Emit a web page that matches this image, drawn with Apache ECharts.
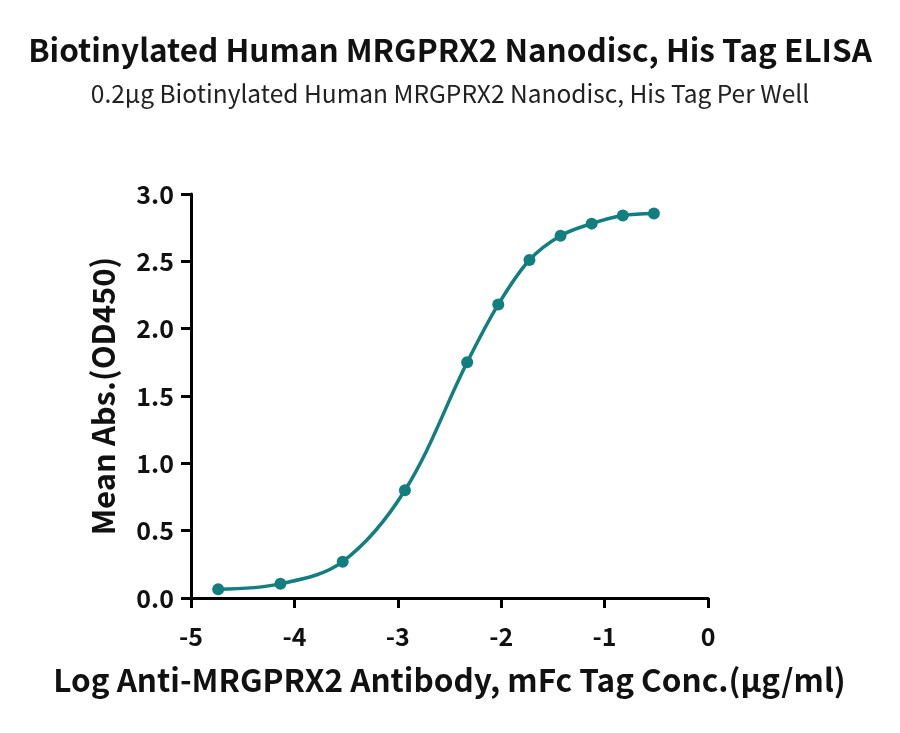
<!DOCTYPE html>
<html>
<head>
<meta charset="utf-8">
<script src="https://cdn.jsdelivr.net/npm/echarts@6/dist/echarts.min.js"></script>
<style>
  html, body { margin: 0; padding: 0; background: #fff; }
  #chart { width: 900px; height: 733px; }
</style>
</head>
<body>
<div id="chart"></div>
<script>
// log concentration (x) and mean absorbance (y)
const logConc = [-4.737, -4.135, -3.533, -2.931, -2.329, -2.028, -1.727, -1.426, -1.125, -0.824, -0.523];
const meanAbs = [0.065, 0.105, 0.27, 0.80, 1.75, 2.18, 2.51, 2.69, 2.78, 2.84, 2.855];

const xTicks = [-5, -4, -3, -2, -1, 0];
const yTicks = [0, 0.5, 1.0, 1.5, 2.0, 2.5, 3.0];

const teal = '#127e7f';
const font = '"Noto Sans CJK SC", "Noto Sans", sans-serif';

let myChart = echarts.init(document.getElementById('chart'));

let points = logConc.map((x, i) => [x, meanAbs[i]]);

let option = {
    animation: false,
    title: {
        text: 'Biotinylated Human MRGPRX2 Nanodisc, His Tag ELISA',
        subtext: '0.2\u00b5g Biotinylated Human MRGPRX2 Nanodisc, His Tag Per Well',
        left: 'center',
        top: 29,
        itemGap: 16,
        textStyle: {fontFamily: font, fontWeight: 'bold', fontSize: 31.5, color: '#111'},
        subtextStyle: {fontFamily: font, fontSize: 24.5, color: '#222'}
    },
    grid: {
        left: 191,
        right: 192,
        top: 194,
        bottom: 135
    },
    xAxis: {
        type: 'value',
        min: xTicks[0],
        max: xTicks[xTicks.length - 1],
        interval: 1,
        name: 'Log Anti-MRGPRX2 Antibody, mFc Tag Conc.(\u00b5g/ml)',
        nameLocation: 'middle',
        nameGap: 66,
        nameTextStyle: {fontFamily: font, fontWeight: 'bold', fontSize: 31.5, color: '#111'},
        axisLine: {onZero: false, lineStyle: {color: '#000', width: 3}},
        axisTick: {length: 10, lineStyle: {color: '#000', width: 3}},
        axisLabel: {fontFamily: font, fontWeight: 'bold', fontSize: 25, color: '#111', margin: 26},
        splitLine: {show: false}
    },
    yAxis: {
        type: 'value',
        min: yTicks[0],
        max: yTicks[yTicks.length - 1],
        interval: 0.5,
        name: 'Mean Abs.(OD450)',
        nameLocation: 'middle',
        nameGap: 72,
        nameTextStyle: {fontFamily: font, fontWeight: 'bold', fontSize: 31, color: '#111'},
        axisLine: {show: true, onZero: false, lineStyle: {color: '#000', width: 3}},
        axisTick: {show: true, length: 10, lineStyle: {color: '#000', width: 3}},
        axisLabel: {
            fontFamily: font, fontWeight: 'bold', fontSize: 25, color: '#111', margin: 17,
            formatter: v => v.toFixed(1)
        },
        splitLine: {show: false}
    },
    series: [{
        type: 'line',
        data: points,
        smooth: 0.35,
        symbol: 'circle',
        symbolSize: 12,
        lineStyle: {color: teal, width: 3.5},
        itemStyle: {color: teal}
    }]
};

myChart.setOption(option);
</script>
</body>
</html>
